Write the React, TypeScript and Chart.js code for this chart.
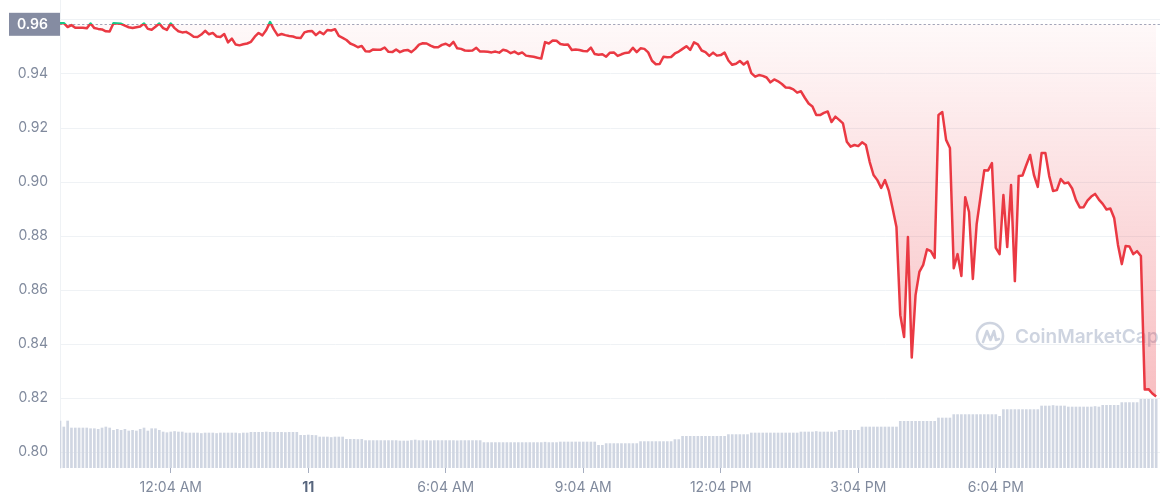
import React, { useEffect, useRef } from 'react';
import { Chart, registerables } from 'chart.js';

Chart.register(...registerables);

// Opening (reference) price shown in the grey box on the y axis
const REF_PRICE = 0.9584;
const REF_LABEL = '0.96';

// Price, one point every 5 minutes over 24h
const prices = [
  0.9588, 0.9588, 0.9574, 0.9581, 0.9571, 0.9571, 0.9571, 0.9569, 0.9587, 0.9570, 0.9567, 0.9565,
  0.9558, 0.9557, 0.9588, 0.9587, 0.9586, 0.9579, 0.9573, 0.9570, 0.9573, 0.9576, 0.9587, 0.9567,
  0.9564, 0.9575, 0.9587, 0.9570, 0.9563, 0.9587, 0.9570, 0.9558, 0.9554, 0.9556, 0.9548, 0.9538,
  0.9537, 0.9546, 0.9560, 0.9547, 0.9552, 0.9539, 0.9537, 0.9548, 0.9517, 0.9531, 0.9509, 0.9506,
  0.9510, 0.9513, 0.9519, 0.9538, 0.9552, 0.9543, 0.9563, 0.9592, 0.9565, 0.9543, 0.9548, 0.9544,
  0.9541, 0.9539, 0.9534, 0.9533, 0.9554, 0.9558, 0.9559, 0.9544, 0.9556, 0.9547, 0.9563, 0.9561,
  0.9566, 0.9541, 0.9534, 0.9526, 0.9513, 0.9507, 0.9499, 0.9504, 0.9484, 0.9483, 0.9491, 0.9490,
  0.9490, 0.9498, 0.9482, 0.9481, 0.9491, 0.9481, 0.9487, 0.9489, 0.9481, 0.9493, 0.9509, 0.9514,
  0.9513, 0.9505, 0.9499, 0.9499, 0.9508, 0.9512, 0.9504, 0.9519, 0.9495, 0.9493, 0.9487, 0.9486,
  0.9487, 0.9497, 0.9483, 0.9483, 0.9482, 0.9480, 0.9483, 0.9479, 0.9490, 0.9486, 0.9477, 0.9483,
  0.9474, 0.9480, 0.9468, 0.9466, 0.9464, 0.9460, 0.9457, 0.9518, 0.9513, 0.9524, 0.9523, 0.9511,
  0.9508, 0.9509, 0.9489, 0.9491, 0.9489, 0.9485, 0.9484, 0.9498, 0.9474, 0.9471, 0.9473, 0.9464,
  0.9479, 0.9480, 0.9467, 0.9473, 0.9478, 0.9480, 0.9497, 0.9481, 0.9495, 0.9493, 0.9480, 0.9449,
  0.9436, 0.9437, 0.9464, 0.9462, 0.9463, 0.9476, 0.9483, 0.9493, 0.9503, 0.9489, 0.9517, 0.9510,
  0.9487, 0.9481, 0.9467, 0.9479, 0.9468, 0.9470, 0.9479, 0.9450, 0.9434, 0.9438, 0.9448, 0.9435,
  0.9446, 0.9403, 0.9390, 0.9396, 0.9393, 0.9387, 0.9369, 0.9380, 0.9373, 0.9363, 0.9350, 0.9349,
  0.9343, 0.9331, 0.9336, 0.9312, 0.9291, 0.9280, 0.9248, 0.9248, 0.9256, 0.9261, 0.9222, 0.9242,
  0.9230, 0.9217, 0.9149, 0.9131, 0.9137, 0.9133, 0.9147, 0.9137, 0.9074, 0.9026, 0.9007, 0.8978,
  0.9007, 0.8967, 0.8902, 0.8833, 0.8507, 0.8426, 0.8796, 0.8350, 0.8581, 0.8667, 0.8693, 0.8751,
  0.8744, 0.8719, 0.9248, 0.9259, 0.9156, 0.9126, 0.8681, 0.8733, 0.8652, 0.8944, 0.8889, 0.8641,
  0.8844, 0.8944, 0.9044, 0.9043, 0.9070, 0.8756, 0.8733, 0.8952, 0.8759, 0.8989, 0.8633, 0.9022,
  0.9024, 0.9063, 0.9100, 0.9026, 0.8982, 0.9107, 0.9107, 0.9022, 0.8967, 0.8970, 0.9011, 0.8995,
  0.8998, 0.8976, 0.8933, 0.8906, 0.8907, 0.8931, 0.8946, 0.8956, 0.8935, 0.8919, 0.8898, 0.8902,
  0.8867, 0.8767, 0.8696, 0.8763, 0.8761, 0.8733, 0.8744, 0.8726, 0.8232, 0.8233, 0.8217, 0.8206,
];

// Volume (relative units), one bar per 5-minute point
const volumes = [
  47, 41, 47, 40, 40, 40, 40, 40, 39.3, 39.3, 38.7, 40,
  41, 40, 37.7, 38.7, 37.7, 38.7, 37, 37.7, 37, 38.7, 40, 37,
  39.3, 39.3, 37.7, 36, 35.3, 36, 36.5, 36, 36, 35, 35, 35,
  35, 34.5, 35, 35, 35, 34.5, 35, 35, 35, 35, 35, 34.5,
  35, 35, 35.7, 35.7, 35.7, 35.7, 36, 35.7, 35.7, 35.7, 35.7, 35.5,
  35.7, 35.7, 35.7, 32.7, 32.7, 33, 32.7, 32.5, 31, 31, 31, 30.5,
  31, 31, 31, 28.7, 28.7, 28.7, 28.5, 28.7, 27.4, 27.4, 27.4, 27.4,
  27.4, 27.4, 27.4, 27.4, 27.4, 27, 27, 27, 27.5, 28, 27.4, 27.4,
  27.4, 27.2, 27.4, 27.4, 27.4, 27.4, 27.4, 27.4, 27.2, 27.4, 27.4, 27.4,
  27.4, 27.4, 27.4, 25.4, 25.4, 25.4, 25.4, 25.4, 25.4, 25.4, 25.4, 25.4,
  25.4, 25.4, 25.4, 25.4, 25.4, 25.4, 25.4, 25.8, 25.4, 25.4, 25.4, 26,
  26, 26, 26, 26, 26, 26, 26, 26, 26, 22.7, 22.7, 24.4,
  24.4, 24.4, 24.4, 24.4, 24.4, 24.4, 24.4, 24.4, 26.4, 26.4, 26.4, 26.4,
  26.4, 26.4, 26.4, 26.4, 26.4, 28.4, 28.4, 31.7, 31.7, 31.7, 31.7, 31.7,
  31.7, 31.7, 31.7, 31.7, 31.7, 31.7, 31.7, 33.4, 33.4, 33.4, 33.4, 33.4,
  33.4, 35, 35, 35, 35, 35, 35, 35, 35, 35, 35, 35,
  35, 35, 36, 36, 36, 36, 36.5, 36, 36, 36, 36, 36,
  37.7, 37.7, 37.7, 37.7, 37.7, 37.7, 41, 41, 41, 41, 41, 41,
  41, 41, 41, 41, 46.7, 46.7, 46.7, 46.7, 46.7, 46.7, 46.7, 46.7,
  46.7, 46.7, 50, 50, 50, 50, 53.4, 53.4, 53.4, 53.4, 53.4, 53.4,
  53.4, 53.4, 53.4, 53.4, 53.4, 53.4, 51.7, 58.4, 58.4, 58.4, 58.4, 58.4,
  58.4, 58.4, 58.4, 58.4, 58.4, 62, 62, 62, 62.5, 62, 62, 62,
  61, 61, 61, 61, 61, 61, 61, 61.5, 61, 62.7, 62.7, 62.7,
  62.7, 62.7, 65.4, 65.4, 65.4, 65.4, 65.4, 68.7, 68.7, 68.7, 68.7, 68.7,
];

// X axis tick labels and the 5-minute slot each one sits on
const xTickIndex = [29, 65, 101, 137, 173, 209, 245];
const xTickLabels = ['12:04 AM', '11', '6:04 AM', '9:04 AM', '12:04 PM', '3:04 PM', '6:04 PM'];
const DATE_TICK = 65;

const RED = '#ea3943';
const GREEN = '#16c784';
const AXIS_TEXT = '#808a9d';
const GRID = '#eff2f5';
const FONT = 'Inter, "Noto Sans", sans-serif';

const lineColor = (ctx: any) => {
  const chart = ctx.chart;
  const a = chart.chartArea;
  if (!a) return RED;
  const y = chart.scales.y.getPixelForValue(REF_PRICE);
  const t = Math.min(Math.max((y - a.top) / (a.bottom - a.top), 0), 1);
  const g = chart.ctx.createLinearGradient(0, a.top, 0, a.bottom);
  g.addColorStop(0, GREEN);
  g.addColorStop(t, GREEN);
  g.addColorStop(t, RED);
  g.addColorStop(1, RED);
  return g;
};

const fillColor = (ctx: any) => {
  const chart = ctx.chart;
  const a = chart.chartArea;
  if (!a) return 'rgba(234,57,67,0.1)';
  const y = chart.scales.y.getPixelForValue(REF_PRICE);
  const t = Math.min(Math.max((y - a.top) / (a.bottom - a.top), 0), 1);
  const g = chart.ctx.createLinearGradient(0, a.top, 0, a.bottom);
  g.addColorStop(0, 'rgba(234,57,67,0.02)');
  g.addColorStop(t, 'rgba(234,57,67,0.03)');
  g.addColorStop(1, 'rgba(234,57,67,0.38)');
  return g;
};

const decorPlugin = {
  id: 'decor',
  beforeDatasetsDraw(chart: any) {
    const { ctx, chartArea: a, scales } = chart;
    const y = Math.round(scales.y.getPixelForValue(REF_PRICE)) + 0.5;
    ctx.save();
    // watermark
    const wmColor = 'rgba(190,197,214,0.75)';
    const cx = a.right - 170;
    const cy = a.bottom - 132;
    ctx.strokeStyle = wmColor;
    ctx.lineWidth = 2.6;
    ctx.beginPath();
    ctx.arc(cx, cy, 13, 0, Math.PI * 2);
    ctx.stroke();
    ctx.lineJoin = 'round';
    ctx.lineCap = 'round';
    ctx.beginPath();
    ctx.moveTo(cx - 7, cy + 6);
    ctx.lineTo(cx - 3, cy - 5);
    ctx.lineTo(cx + 0.5, cy + 4);
    ctx.lineTo(cx + 4, cy - 5);
    ctx.lineTo(cx + 6, cy + 4);
    ctx.lineTo(cx + 9, cy + 3);
    ctx.stroke();
    ctx.fillStyle = wmColor;
    ctx.font = '600 19px ' + FONT;
    ctx.textAlign = 'left';
    ctx.textBaseline = 'middle';
    ctx.fillText('CoinMarketCap', cx + 25, cy + 1);
    // dotted reference line
    ctx.strokeStyle = '#a1a7bb';
    ctx.lineWidth = 1;
    ctx.setLineDash([1.5, 3]);
    ctx.beginPath();
    ctx.moveTo(a.left, y);
    ctx.lineTo(a.right, y);
    ctx.stroke();
    ctx.restore();
  },
  afterDraw(chart: any) {
    const { ctx, scales } = chart;
    const y = scales.y.getPixelForValue(REF_PRICE);
    ctx.save();
    ctx.fillStyle = '#858ca2';
    ctx.fillRect(9, y - 11.5, 51, 23);
    ctx.fillStyle = '#ffffff';
    ctx.font = '600 14px ' + FONT;
    ctx.textAlign = 'right';
    ctx.textBaseline = 'middle';
    ctx.fillText(REF_LABEL, 48, y + 0.5);
    ctx.restore();
  },
};

export default function App() {
  const canvasRef = useRef<HTMLCanvasElement | null>(null);

  useEffect(() => {
    document.body.style.margin = '0';
    const canvas = canvasRef.current;
    if (!canvas) return;
    const chart = new Chart(canvas, {
      type: 'line',
      data: {
        datasets: [
          {
            type: 'line',
            label: 'Price',
            data: prices.map((p, i) => ({ x: i, y: p })),
            yAxisID: 'y',
            borderColor: lineColor,
            backgroundColor: fillColor,
            borderWidth: 2.5,
            borderJoinStyle: 'round',
            pointRadius: 0,
            tension: 0,
            fill: { target: { value: REF_PRICE } },
            order: 0,
          },
          {
            type: 'bar',
            label: 'Volume',
            data: volumes.map((v, i) => ({ x: i, y: v })),
            yAxisID: 'yv',
            backgroundColor: '#d0d6e2',
            barThickness: 2,
            order: 1,
          },
        ],
      } as any,
      options: {
        animation: false,
        responsive: true,
        maintainAspectRatio: false,
        layout: { padding: { left: 0, right: 1, top: 0, bottom: 0 } },
        plugins: { legend: { display: false }, tooltip: { enabled: false } },
        scales: {
          x: {
            type: 'linear',
            min: 0,
            max: 288,
            offset: false,
            border: { display: false },
            grid: {
              display: true,
              drawOnChartArea: false,
              drawTicks: true,
              tickLength: 5,
              color: '#a6aec0',
              offset: false,
            },
            afterBuildTicks: (scale: any) => {
              scale.ticks = xTickIndex.map((v) => ({ value: v }));
            },
            afterFit: (scale: any) => {
              scale.height = 32;
              scale.paddingLeft = 0;
              scale.paddingRight = 0;
            },
            ticks: {
              autoSkip: false,
              maxRotation: 0,
              padding: 6,
              font: (ctx: any) => ({
                family: FONT,
                size: 14,
                weight: ctx.tick && ctx.tick.value === DATE_TICK ? 'bold' : 'normal',
              }),
              color: (ctx: any) => (ctx.tick && ctx.tick.value === DATE_TICK ? '#58667e' : AXIS_TEXT),
              callback: (value: any) => {
                const k = xTickIndex.indexOf(Math.round(Number(value)));
                return k >= 0 ? xTickLabels[k] : '';
              },
            },
          },
          y: {
            type: 'linear',
            position: 'left',
            min: 0.7941,
            max: 0.9674,
            border: { display: true, color: GRID },
            grid: { color: GRID, drawTicks: false },
            afterFit: (scale: any) => {
              scale.width = 60;
              scale.paddingTop = 0;
              scale.paddingBottom = 0;
            },
            ticks: {
              stepSize: 0.02,
              includeBounds: false,
              padding: 12,
              color: AXIS_TEXT,
              font: { family: FONT, size: 14 },
              callback: (value: any) => {
                const v = Number(value);
                if (Math.abs(v - 0.96) < 1e-6) return '';
                return v.toFixed(2);
              },
            },
          },
          yv: {
            type: 'linear',
            display: false,
            min: 0,
            max: 468,
          },
        },
      } as any,
      plugins: [decorPlugin],
    });
    return () => chart.destroy();
  }, []);

  return (
    <div style={{ position: 'relative', width: '1161px', height: '500px' }}>
      <canvas ref={canvasRef} />
    </div>
  );
}
